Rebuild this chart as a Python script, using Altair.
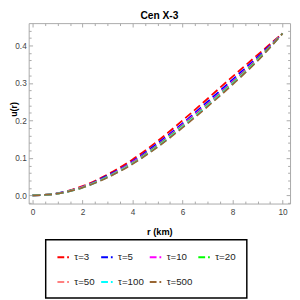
import altair as alt
import pandas as pd

r_vals = [0, 1, 2, 3, 4, 5, 6, 7, 8, 9, 10]
labels = ["τ=3", "τ=5", "τ=10", "τ=20", "τ=50", "τ=100", "τ=500"]
colors = ["#ff0000", "#0000ff", "#ff00ff", "#00ff00", "#ff8080", "#00ffff", "#996633"]

u_tau3 = [0, 0.006, 0.025, 0.056, 0.096, 0.145, 0.200, 0.258, 0.317, 0.375, 0.432]
u_tau5 = [0, 0.006, 0.023, 0.053, 0.091, 0.139, 0.192, 0.250, 0.309, 0.369, 0.432]
u_tau10 = [0, 0.005, 0.023, 0.051, 0.089, 0.135, 0.189, 0.245, 0.304, 0.365, 0.432]
u_tau20 = [0, 0.005, 0.022, 0.050, 0.087, 0.133, 0.186, 0.242, 0.301, 0.363, 0.432]
u_tau50 = [0, 0.005, 0.022, 0.049, 0.086, 0.131, 0.184, 0.240, 0.299, 0.361, 0.432]
u_tau100 = [0, 0.005, 0.021, 0.049, 0.085, 0.130, 0.183, 0.239, 0.298, 0.360, 0.432]
u_tau500 = [0, 0.005, 0.021, 0.048, 0.084, 0.129, 0.181, 0.237, 0.296, 0.359, 0.432]
series = [u_tau3, u_tau5, u_tau10, u_tau20, u_tau50, u_tau100, u_tau500]

x_major = [0, 2, 4, 6, 8, 10]
x_minor = [0.5, 1, 1.5, 2.5, 3, 3.5, 4.5, 5, 5.5, 6.5, 7, 7.5, 8.5, 9, 9.5]
y_major = [0.0, 0.1, 0.2, 0.3, 0.4]
y_minor = [-0.02, 0.02, 0.04, 0.06, 0.08, 0.12, 0.14, 0.16, 0.18, 0.22, 0.24,
           0.26, 0.28, 0.32, 0.34, 0.36, 0.38, 0.42, 0.44]

title_text = ["Cen X-3"]
y_title_text = ["u(r)"]

rows = []
for lab, ys in zip(labels, series):
    for r, u in zip(r_vals, ys):
        rows.append({"r": r, "u": u, "tau": lab})
df = pd.DataFrame(rows)

FONT = "Liberation Sans"
FRAME = "#a8a8a8"
W, H = 269, 185.7
xscale = alt.Scale(domain=[-0.155, 10.3], nice=False, zero=False)
yscale = alt.Scale(domain=[-0.0215, 0.4596], nice=False, zero=False)

base = alt.Chart(df)

lines = base.mark_line(strokeWidth=1.8, strokeDash=[8, 4], interpolate="monotone").encode(
    x=alt.X("r:Q", scale=xscale,
            axis=alt.Axis(orient="bottom", values=x_major, format="d", ticks=False,
                          domain=False, grid=False, labelPadding=4, labelFontSize=8.5,
                          labelColor="#444444", labelFont=FONT, title="r (km)",
                          titleFont=FONT, titleFontSize=9.5, titleFontWeight="bold",
                          titlePadding=11, titleColor="black")),
    y=alt.Y("u:Q", scale=yscale, title=None,
            axis=alt.Axis(orient="left", values=y_major, format=".1f", ticks=False,
                          domain=False, grid=False, labelPadding=2.5, labelFontSize=8.5,
                          labelColor="#444444", labelFont=FONT)),
    color=alt.Color("tau:N", scale=alt.Scale(domain=labels, range=colors),
                    legend=alt.Legend(title=None, orient="none", legendX=17.5, legendY=223,
                                      direction="horizontal", columns=4, gridAlign="none",
                                      symbolType="stroke", symbolSize=140,
                                      symbolStrokeWidth=2, symbolDash=[7, 3],
                                      labelFont=FONT, labelFontSize=10, labelColor="#222222",
                                      labelOffset=4.5, columnPadding=2, rowPadding=13.4,
                                      padding=11, strokeColor="black")),
)


def tick_layer(xo, xv, xs, yo, yv, ys):
    return base.mark_point(opacity=0).encode(
        x=alt.X("r:Q", scale=xscale, title=None,
                axis=alt.Axis(orient=xo, values=xv, tickSize=xs, offset=-xs, labels=False,
                              domain=False, grid=False, tickColor=FRAME, tickWidth=1)),
        y=alt.Y("u:Q", scale=yscale, title=None,
                axis=alt.Axis(orient=yo, values=yv, tickSize=ys, offset=-ys, labels=False,
                              domain=False, grid=False, tickColor=FRAME, tickWidth=1)),
    )


title_layer = alt.Chart(pd.DataFrame({"t": title_text})).mark_text(
    font=FONT, fontSize=10.5, fontWeight="bold", color="black",
    align="center", baseline="alphabetic",
).encode(text="t:N", x=alt.value(W / 2), y=alt.value(-4))

ytitle_layer = alt.Chart(pd.DataFrame({"t": y_title_text})).mark_text(
    font=FONT, fontSize=9, fontWeight="bold", color="black",
    align="center", baseline="middle", angle=270,
).encode(text="t:N", x=alt.value(-15.5), y=alt.value(H / 2 - 4))

chart = alt.layer(
    lines,
    tick_layer("bottom", x_major, 4, "left", y_major, 4),
    tick_layer("bottom", x_minor, 2.5, "left", y_minor, 2.5),
    tick_layer("top", x_major, 4, "right", y_major, 4),
    tick_layer("top", x_minor, 2.5, "right", y_minor, 2.5),
    title_layer,
    ytitle_layer,
).resolve_axis(x="independent", y="independent").properties(
    width=W, height=H,
    autosize=alt.AutoSizeParams(type="none"),
    padding={"left": 21.3, "top": 11.3, "right": 2, "bottom": 95},
).configure_view(stroke=FRAME, strokeWidth=1).configure_legend(strokeWidth=1.5, gridAlign="none")

chart.save("out.html", embed_options={"renderer": "svg", "actions": False})
